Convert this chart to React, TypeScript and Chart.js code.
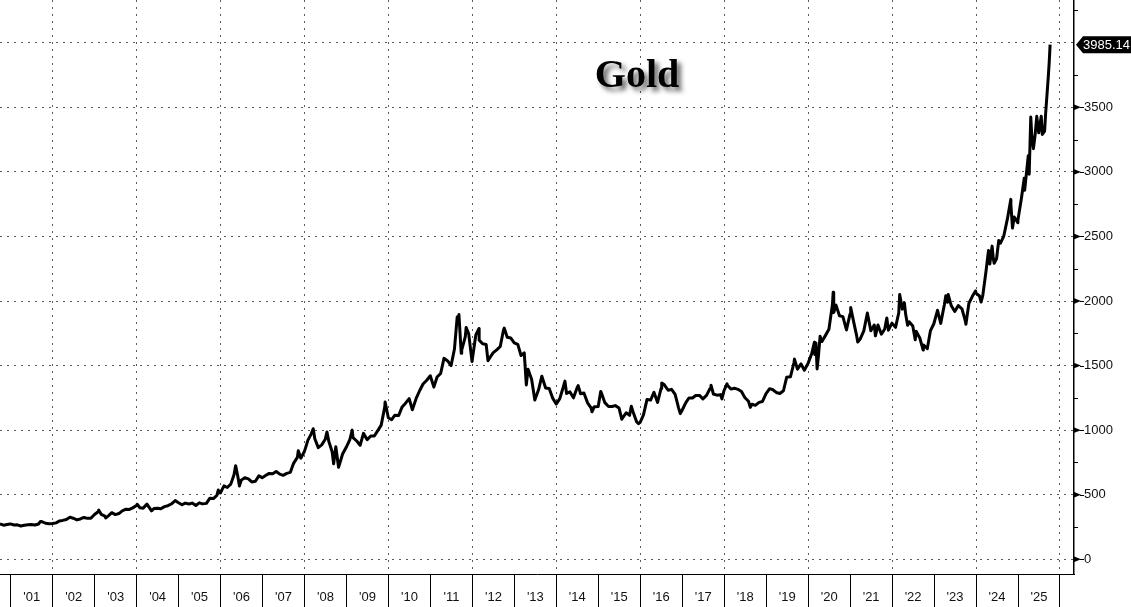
import { useEffect, useRef } from 'react';
import { Chart, registerables } from 'chart.js';

Chart.register(...registerables);

// ---- data ----
const dates: string[] = [
  '2000-09-29','2000-10-31','2000-11-30','2000-12-29',
  '2001-01-31','2001-02-28','2001-03-30','2001-04-30','2001-05-31','2001-06-29','2001-07-31','2001-08-31','2001-09-17','2001-09-28','2001-10-31','2001-11-30','2001-12-31',
  '2002-01-31','2002-02-28','2002-03-28','2002-04-30','2002-05-31','2002-06-28','2002-07-31','2002-08-30','2002-09-30','2002-10-31','2002-11-29','2002-12-31',
  '2003-01-31','2003-02-05','2003-02-28','2003-03-31','2003-04-07','2003-04-30','2003-05-30','2003-06-30','2003-07-31','2003-08-29','2003-09-30','2003-10-31','2003-11-28','2003-12-31',
  '2004-01-06','2004-01-30','2004-02-27','2004-03-31','2004-04-30','2004-05-10','2004-05-31','2004-06-30','2004-07-30','2004-08-31','2004-09-30','2004-10-29','2004-11-30','2004-12-02','2004-12-31',
  '2005-01-31','2005-02-28','2005-03-31','2005-04-29','2005-05-31','2005-06-30','2005-07-29','2005-08-31','2005-09-30','2005-10-31','2005-11-30','2005-12-12','2005-12-30',
  '2006-01-31','2006-02-28','2006-03-31','2006-04-28','2006-05-12','2006-05-31','2006-06-14','2006-06-30','2006-07-31','2006-08-31','2006-09-29','2006-10-31','2006-11-30','2006-12-29',
  '2007-01-31','2007-02-28','2007-03-30','2007-04-30','2007-05-31','2007-06-29','2007-07-31','2007-08-31','2007-09-28','2007-10-31','2007-11-08','2007-11-30','2007-12-31',
  '2008-01-31','2008-02-29','2008-03-17','2008-03-31','2008-04-30','2008-05-30','2008-06-30','2008-07-15','2008-07-31','2008-08-29','2008-09-11','2008-09-30','2008-10-24','2008-10-31','2008-11-28','2008-12-31',
  '2009-01-30','2009-02-20','2009-02-27','2009-03-31','2009-04-30','2009-05-29','2009-06-30','2009-07-31','2009-08-31','2009-09-30','2009-10-30','2009-11-30','2009-12-03','2009-12-31',
  '2010-01-29','2010-02-26','2010-03-31','2010-04-30','2010-05-28','2010-06-30','2010-07-28','2010-08-31','2010-09-30','2010-10-29','2010-11-30','2010-12-31',
  '2011-01-31','2011-02-28','2011-03-31','2011-04-29','2011-05-31','2011-06-30','2011-07-29','2011-08-22','2011-08-31','2011-09-06','2011-09-26','2011-09-30','2011-10-31','2011-11-08','2011-11-30','2011-12-29',
  '2012-01-31','2012-02-28','2012-02-29','2012-03-30','2012-04-30','2012-05-16','2012-05-31','2012-06-29','2012-07-31','2012-08-31','2012-09-28','2012-10-05','2012-10-31','2012-11-30','2012-12-31',
  '2013-01-31','2013-02-28','2013-03-28','2013-04-15','2013-04-30','2013-05-31','2013-06-28','2013-07-31','2013-08-28','2013-09-30','2013-10-31','2013-11-29','2013-12-31',
  '2014-01-31','2014-02-28','2014-03-17','2014-03-31','2014-04-30','2014-05-30','2014-06-30','2014-07-10','2014-07-31','2014-08-29','2014-09-30','2014-10-31','2014-11-07','2014-11-28','2014-12-31',
  '2015-01-22','2015-01-30','2015-02-27','2015-03-31','2015-04-30','2015-05-29','2015-06-30','2015-07-24','2015-08-31','2015-09-30','2015-10-15','2015-10-30','2015-11-30','2015-12-17','2015-12-31',
  '2016-01-29','2016-02-29','2016-03-31','2016-04-29','2016-05-31','2016-06-30','2016-07-06','2016-07-29','2016-08-31','2016-09-30','2016-10-31','2016-11-30','2016-12-15','2016-12-30',
  '2017-01-31','2017-02-28','2017-03-31','2017-04-28','2017-05-31','2017-06-30','2017-07-31','2017-08-31','2017-09-08','2017-09-29','2017-10-31','2017-11-30','2017-12-12','2017-12-29',
  '2018-01-25','2018-01-31','2018-02-28','2018-03-30','2018-04-30','2018-05-31','2018-06-29','2018-07-31','2018-08-16','2018-08-31','2018-09-28','2018-10-31','2018-11-30','2018-12-31',
  '2019-01-31','2019-02-28','2019-03-29','2019-04-30','2019-05-31','2019-06-28','2019-07-31','2019-08-30','2019-09-04','2019-09-30','2019-10-31','2019-11-29','2019-12-31',
  '2020-01-31','2020-02-24','2020-02-28','2020-03-09','2020-03-19','2020-03-31','2020-04-14','2020-04-30','2020-05-29','2020-06-30','2020-07-31','2020-08-06','2020-08-11','2020-08-31','2020-09-30','2020-10-30','2020-11-30','2020-12-31',
  '2021-01-06','2021-01-29','2021-02-26','2021-03-08','2021-03-31','2021-04-30','2021-05-31','2021-06-30','2021-07-30','2021-08-09','2021-08-31','2021-09-30','2021-10-29','2021-11-16','2021-11-30','2021-12-31',
  '2022-01-31','2022-02-28','2022-03-08','2022-03-31','2022-04-18','2022-04-29','2022-05-16','2022-05-31','2022-06-30','2022-07-21','2022-07-29','2022-08-31','2022-09-28','2022-09-30','2022-10-31','2022-11-03','2022-11-30','2022-12-30',
  '2023-01-31','2023-02-28','2023-03-31','2023-04-13','2023-04-28','2023-05-04','2023-05-31','2023-06-30','2023-07-31','2023-08-31','2023-09-29','2023-10-05','2023-10-31','2023-11-30','2023-12-27','2023-12-29',
  '2024-01-31','2024-02-14','2024-02-29','2024-03-28','2024-04-12','2024-04-19','2024-04-30','2024-05-20','2024-05-31','2024-06-07','2024-06-28','2024-07-17','2024-07-31','2024-08-30','2024-09-30','2024-10-30','2024-10-31','2024-11-14','2024-11-29','2024-12-30','2024-12-31',
  '2025-01-31','2025-02-24','2025-02-28','2025-03-31','2025-04-08','2025-04-22','2025-04-30','2025-05-15','2025-05-30','2025-06-13','2025-06-30','2025-07-22','2025-07-31','2025-08-20','2025-08-29','2025-09-22','2025-09-30','2025-10-07',
];

const prices: number[] = [
  273,264,270,274,
  265,267,258,263,267,270,265,273,293,292,279,275,277,
  282,297,301,308,326,318,305,312,324,317,318,347,
  368,382,347,334,320,336,361,346,354,375,388,386,398,416,
  426,399,396,427,388,375,393,395,391,408,415,428,453,455,438,
  422,435,428,435,417,437,429,433,473,470,495,536,513,
  568,556,582,654,725,643,567,613,632,623,599,604,646,632,
  650,665,662,680,659,650,665,673,743,789,841,783,834,
  923,971,1011,933,865,886,930,986,913,833,740,871,713,731,815,869,
  927,1000,942,916,883,975,926,955,955,996,1039,1180,1218,1096,
  1081,1116,1113,1180,1207,1244,1158,1248,1307,1357,1386,1421,
  1333,1411,1439,1556,1536,1500,1628,1877,1825,1895,1595,1620,1722,1795,1746,1531,
  1738,1787,1697,1669,1664,1538,1559,1598,1622,1648,1773,1790,1720,1714,1676,
  1664,1578,1598,1350,1472,1394,1234,1314,1418,1327,1323,1250,1202,
  1244,1326,1380,1284,1296,1250,1327,1345,1282,1287,1211,1171,1142,1182,1184,
  1300,1283,1213,1183,1183,1190,1172,1085,1134,1115,1185,1142,1065,1050,1061,
  1118,1238,1233,1293,1215,1322,1366,1351,1309,1316,1277,1173,1128,1152,
  1211,1249,1249,1268,1269,1242,1269,1322,1348,1280,1271,1275,1242,1303,
  1358,1345,1318,1325,1316,1299,1253,1224,1176,1201,1192,1215,1222,1282,
  1321,1313,1292,1284,1305,1409,1413,1520,1550,1472,1513,1464,1517,
  1589,1680,1585,1675,1474,1577,1727,1686,1730,1781,1975,2067,1911,1968,1886,1879,1776,1898,
  1950,1850,1734,1683,1708,1769,1907,1770,1814,1730,1814,1743,1783,1868,1774,1829,
  1796,1909,2050,1937,1986,1897,1812,1838,1807,1700,1766,1711,1620,1660,1634,1630,1768,1824,
  1928,1827,1969,2040,1990,2050,1963,1919,1965,1940,1849,1820,1983,2036,2077,2063,
  2039,1992,2044,2230,2344,2392,2286,2425,2327,2293,2327,2469,2447,2503,2634,2787,2744,2565,2650,2606,2625,
  2798,2951,2858,3124,2982,3425,3289,3180,3289,3430,3303,3431,3290,3315,3448,3746,3858,3985.14,
];

const yearTicks: number[] = [2001,2002,2003,2004,2005,2006,2007,2008,2009,2010,2011,2012,2013,2014,2015,2016,2017,2018,2019,2020,2021,2022,2023,2024,2025,2026];
const yearLabels: string[] = ["'01","'02","'03","'04","'05","'06","'07","'08","'09","'10","'11","'12","'13","'14","'15","'16","'17","'18","'19","'20","'21","'22","'23","'24","'25",''];
const priceTicks: number[] = [0,500,1000,1500,2000,2500,3000,3500,4000];
const priceLabels: string[] = ['0','500','1000','1500','2000','2500','3000','3500',''];
const minorPriceTicks: number[] = [250,750,1250,1750,2250,2750,3250,3750,4250];
const lastValueLabel = '3985.14';
const titleText = 'Gold';

const FONT = "'Liberation Sans', Arial, sans-serif";

function toYear(d: string): number {
  const [y, m, day] = d.split('-').map(Number);
  const start = Date.UTC(y, 0, 1);
  const end = Date.UTC(y + 1, 0, 1);
  return y + (Date.UTC(y, m - 1, day) - start) / (end - start);
}

const decorPlugin = {
  id: 'decor',
  afterDatasetsDraw(chart: any) {
    const { ctx } = chart;
    ctx.save();
    ctx.font = "bold 40px 'Liberation Serif', 'Times New Roman', serif";
    ctx.textAlign = 'center';
    ctx.textBaseline = 'alphabetic';
    ctx.shadowColor = 'rgba(0,0,0,0.6)';
    ctx.shadowBlur = 5;
    ctx.shadowOffsetX = 4;
    ctx.shadowOffsetY = 4;
    ctx.fillStyle = '#000';
    ctx.fillText(titleText, 637, 87);
    ctx.restore();
  },
  afterDraw(chart: any) {
    const { ctx, chartArea, width } = chart;
    const ys = chart.scales.y;
    const axisX = chartArea.right;
    ctx.save();
    ctx.fillStyle = '#000';
    ctx.strokeStyle = '#000';
    ctx.lineWidth = 1;
    // minor ticks
    minorPriceTicks.forEach((v) => {
      const py = Math.round(ys.getPixelForValue(v)) + 0.5;
      if (py < chartArea.top || py > chartArea.bottom) return;
      ctx.beginPath();
      ctx.moveTo(axisX, py);
      ctx.lineTo(axisX + 4, py);
      ctx.stroke();
    });
    // major tick arrows
    priceTicks.forEach((v, i) => {
      if (!priceLabels[i]) return;
      const py = ys.getPixelForValue(v);
      ctx.beginPath();
      ctx.moveTo(axisX - 1, py - 3.2);
      ctx.lineTo(axisX + 7, py);
      ctx.lineTo(axisX - 1, py + 3.2);
      ctx.closePath();
      ctx.fill();
      ctx.beginPath();
      ctx.moveTo(axisX + 6, Math.round(py) + 0.5);
      ctx.lineTo(axisX + 10, Math.round(py) + 0.5);
      ctx.stroke();
    });
    // last value box
    const lastVal = prices[prices.length - 1];
    const py = ys.getPixelForValue(lastVal);
    ctx.beginPath();
    ctx.moveTo(axisX + 2, py);
    ctx.lineTo(axisX + 9, py - 8.5);
    ctx.lineTo(width, py - 8.5);
    ctx.lineTo(width, py + 8.5);
    ctx.lineTo(axisX + 9, py + 8.5);
    ctx.closePath();
    ctx.fill();
    ctx.fillStyle = '#fff';
    ctx.font = `13px ${FONT}`;
    ctx.textAlign = 'left';
    ctx.textBaseline = 'middle';
    ctx.fillText(lastValueLabel, axisX + 9, py + 0.5);
    ctx.restore();
  },
};

export default function App() {
  const canvasRef = useRef<HTMLCanvasElement | null>(null);

  useEffect(() => {
    document.body.style.margin = '0';
    const canvas = canvasRef.current;
    if (!canvas) return;
    const points = dates.map((d, i) => ({ x: toYear(d), y: prices[i] }));
    const GRID = '#5a5a5a';

    const chart = new Chart(canvas, {
      type: 'line',
      data: {
        datasets: [
          {
            data: points,
            borderColor: '#000',
            borderWidth: 3,
            pointRadius: 0,
            tension: 0,
            fill: false,
            borderJoinStyle: 'round',
          },
        ],
      },
      options: {
        animation: false,
        responsive: false,
        devicePixelRatio: 1,
        layout: { padding: 0 },
        plugins: {
          legend: { display: false },
          tooltip: { enabled: false },
          title: { display: false },
        },
        scales: {
          x: {
            type: 'linear',
            position: 'bottom',
            min: 2000.745,
            max: 2026.334,
            afterBuildTicks: (scale: any) => {
              scale.ticks = yearTicks.map((v) => ({ value: v }));
            },
            afterFit: (scale: any) => {
              scale.height = 33;
              scale.paddingLeft = 0;
              scale.paddingRight = 0;
              scale.paddingTop = 0;
              scale.paddingBottom = 0;
            },
            ticks: {
              autoSkip: false,
              maxRotation: 0,
              minRotation: 0,
              labelOffset: 21,
              padding: -17,
              color: '#111',
              font: { family: FONT, size: 13 },
              callback: (v: any) => {
                const i = yearTicks.indexOf(Number(v));
                return i >= 0 ? yearLabels[i] : '';
              },
            },
            grid: {
              display: true,
              drawOnChartArea: true,
              drawTicks: true,
              tickLength: 33,
              tickColor: '#000',
              tickWidth: 1,
              tickBorderDash: [],
              lineWidth: 1,
              color: (c: any) => (c.tick && c.tick.value % 2 === 0 ? GRID : 'rgba(0,0,0,0)'),
            },
            border: { display: true, color: '#000', width: 1, dash: [2, 5] },
          },
          y: {
            type: 'linear',
            position: 'right',
            min: -114,
            max: 4331,
            afterBuildTicks: (scale: any) => {
              scale.ticks = priceTicks.map((v) => ({ value: v }));
            },
            afterFit: (scale: any) => {
              scale.width = 57;
              scale.paddingLeft = 0;
              scale.paddingRight = 0;
              scale.paddingTop = 0;
              scale.paddingBottom = 0;
            },
            ticks: {
              padding: 2,
              color: '#111',
              font: { family: FONT, size: 13 },
              callback: (v: any) => {
                const i = priceTicks.indexOf(Number(v));
                return i >= 0 ? priceLabels[i] : '';
              },
            },
            grid: {
              display: true,
              drawOnChartArea: true,
              drawTicks: true,
              tickLength: 8,
              tickColor: 'rgba(0,0,0,0)',
              lineWidth: 1,
              color: GRID,
            },
            border: { display: true, color: '#000', width: 1.5, dash: [2, 5] },
          },
        },
      },
      plugins: [decorPlugin],
    } as any);

    return () => chart.destroy();
  }, []);

  return (
    <canvas
      ref={canvasRef}
      width={1131}
      height={607}
      style={{ display: 'block', width: 1131, height: 607 }}
    />
  );
}
